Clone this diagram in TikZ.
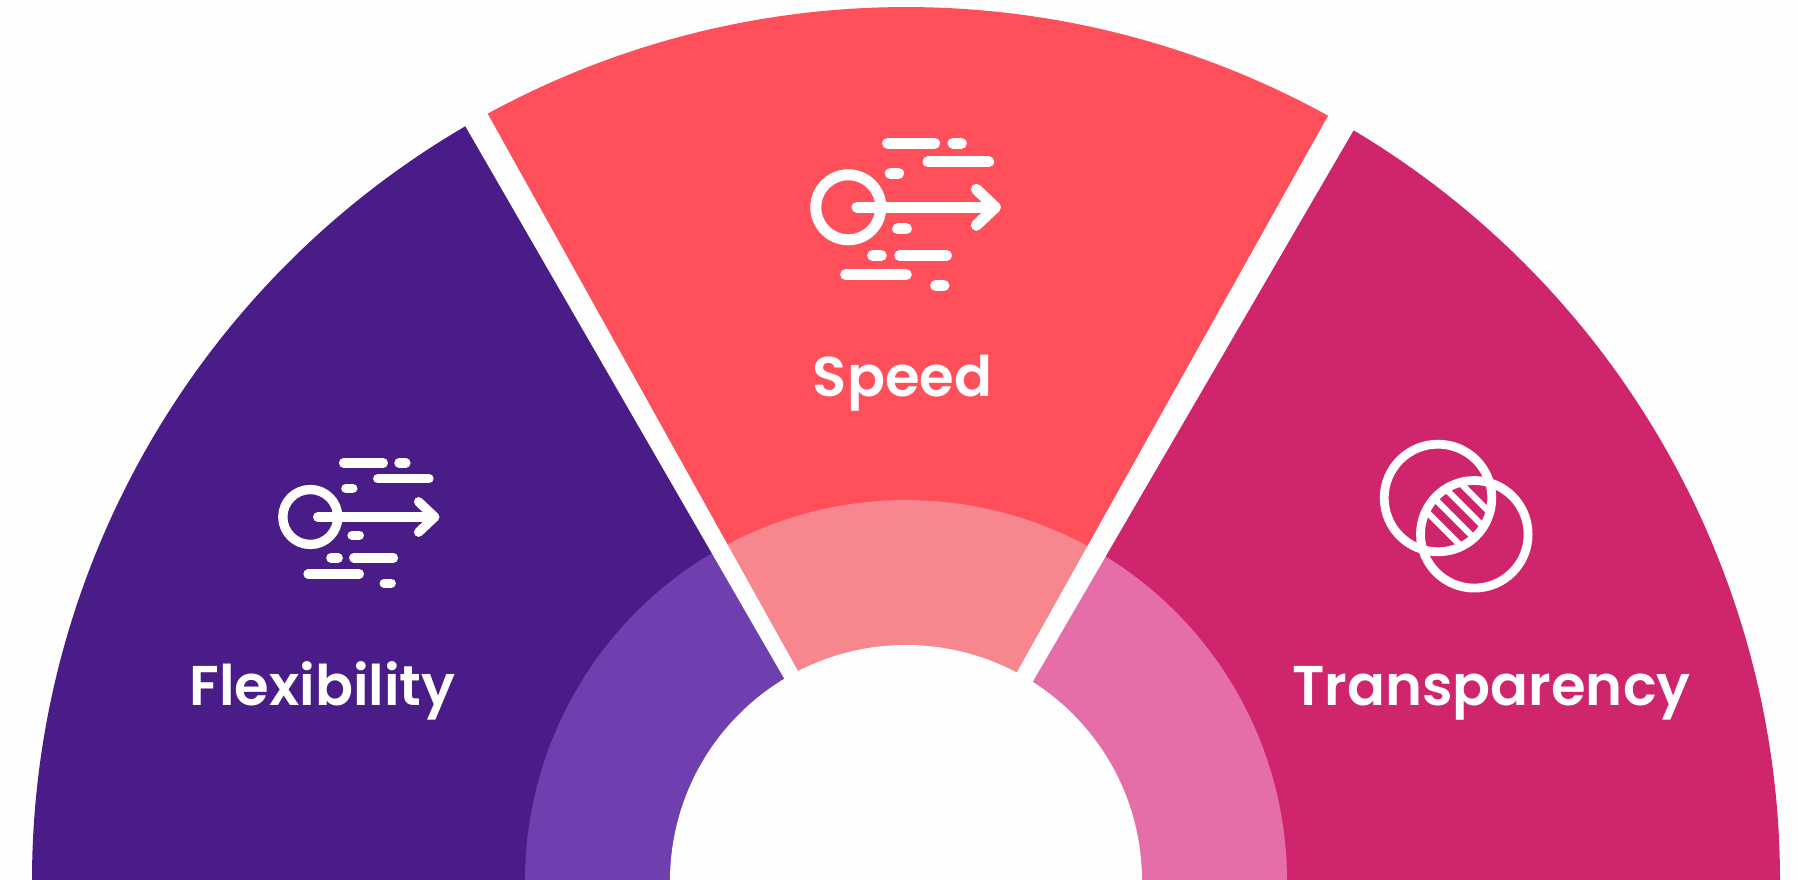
\documentclass[tikz,border=0pt]{standalone}
\usepackage{fontspec}
\usetikzlibrary{calc}
\setmainfont{Poppins}[BoldFont={Poppins SemiBold}]
\definecolor{paper}{HTML}{FEFEFE}
\definecolor{flexdark}{HTML}{4A1C87}
\definecolor{flexlight}{HTML}{6F3FAF}
\definecolor{speeddark}{HTML}{FF4F5A}
\definecolor{speedlight}{HTML}{F7868F}
\definecolor{transdark}{HTML}{CF256D}
\definecolor{translight}{HTML}{E66EA8}
\tikzset{iconline/.style={draw=white,line cap=round,line join=round},
  seclabel/.style={text=white,anchor=base,font=\fontsize{56}{60}\selectfont\bfseries,inner sep=0pt}}
\newcommand{\speedicon}[3]{\begin{scope}[shift={(#1,#2)},scale=#3,iconline,line width=#3*11pt]
\draw (0,0) circle[radius=32.5];
\draw (8.7,0) -- (147,0);
\draw (128,18) -- (147,0) -- (128,-18);
\foreach \xa/\xb/\yy in {39.3/86.3/64,104.7/113/64,79.7/140.3/45.3,42/50.3/34,49.3/58/-21.7,24.3/33/-48.3,51.3/98.3/-48.3,-2.7/58/-67.3,87.3/95.7/-78.3}
\draw (\xa,\yy) -- (\xb,\yy);
\end{scope}}
\begin{document}
\begin{tikzpicture}[x=1pt,y=1pt]
\clip (0,0) rectangle (1798,880);
\fill[paper] (0,0) rectangle (1798,880);
\coordinate (hub) at (906,-1);
% outer sectors
\fill[flexdark] (hub) -- ++(180:874) arc[start angle=180,end angle=119.6,radius=874] -- cycle;
\fill[speeddark] (hub) -- ++(119.6:874) arc[start angle=119.6,end angle=60.3,radius=874] -- cycle;
\fill[transdark] (hub) -- ++(60.3:874) arc[start angle=60.3,end angle=0,radius=874] -- cycle;
% inner band
\fill[flexlight] (hub) -- ++(180:381) arc[start angle=180,end angle=119.6,radius=381] -- cycle;
\fill[speedlight] (hub) -- ++(119.6:381) arc[start angle=119.6,end angle=60.3,radius=381] -- cycle;
\fill[translight] (hub) -- ++(60.3:381) arc[start angle=60.3,end angle=0,radius=381] -- cycle;
% white gaps between the sectors
\coordinate (gapla) at (785,200);
\coordinate (gaplb) at (466,752.7);
\coordinate (gapra) at (798.3,208.3);
\coordinate (gaprb) at (488.3,765);
\coordinate (gapsa) at (1016.7,207.3);
\coordinate (gapsb) at (1327.3,762.7);
\coordinate (gapta) at (1032.7,198.3);
\coordinate (gaptb) at (1352.7,748.3);
\fill[paper] ($(gapla)!-.05!(gaplb)$) -- ($(gapla)!1.1!(gaplb)$) -- ($(gapra)!1.1!(gaprb)$) -- ($(gapra)!-.05!(gaprb)$) -- cycle;
\fill[paper] ($(gapsa)!-.05!(gapsb)$) -- ($(gapsa)!1.1!(gapsb)$) -- ($(gapta)!1.1!(gaptb)$) -- ($(gapta)!-.05!(gaptb)$) -- cycle;
\fill[paper] (hub) circle[radius=236];
% icons
\speedicon{848.3}{672.7}{1}
\speedicon{310.3}{363}{.846}
\coordinate (ringa) at (1438,382);
\coordinate (ringb) at (1474.3,345.7);
\coordinate (lens) at (1456.2,363.8);
\draw[iconline,line width=8.8pt] (ringa) circle[radius=53.8];
\draw[iconline,line width=8.8pt] (ringb) circle[radius=53.8];
\begin{scope}
\clip (ringa) circle[radius=53.8];
\clip (ringb) circle[radius=53.8];
\foreach \off in {-17.7,-2.8,11.8,26.4}
\draw[iconline,line cap=butt,line width=6.2pt] ($(lens)+(45:\off)+(-45:70)$) -- ($(lens)+(45:\off)+(135:70)$);
\end{scope}
% labels
\node[seclabel] (flexlabel) at (322.4,174.3) {Flexibility};
\node[seclabel] (speedlabel) at (902.5,483) {Speed};
\node[seclabel] (translabel) at (1491.5,174.3) {Transparency};
\end{tikzpicture}
\end{document}
